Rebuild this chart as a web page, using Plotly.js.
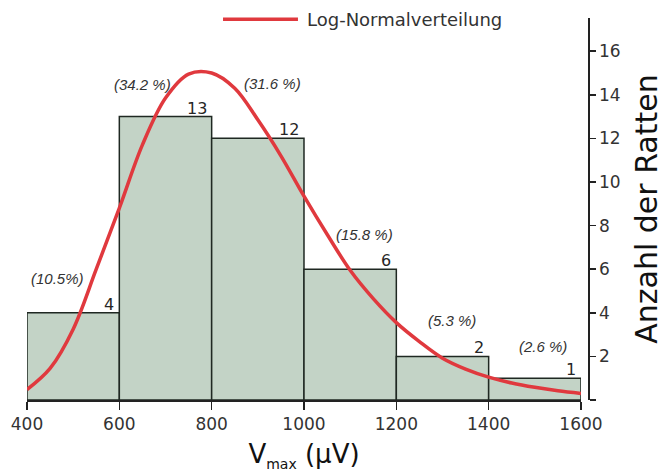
<!DOCTYPE html>
<html>
<head>
<meta charset="utf-8">
<script src="https://cdn.plot.ly/plotly-3.0.1.min.js"></script>
<style>
  html, body { margin: 0; padding: 0; background: #ffffff; }
  #chart { width: 664px; height: 475px; }
</style>
</head>
<body>
<div id="chart"></div>
<script>
// Histogram of V_max per rat (bins of 200 µV)
const binCenters = [500, 700, 900, 1100, 1300, 1500];
const binWidth = 200;
const counts = [4, 13, 12, 6, 2, 1];
const percentLabels = ['(10.5%)', '(34.2 %)', '(31.6 %)', '(15.8 %)', '(5.3 %)', '(2.6 %)'];

// Fitted log-normal curve, sampled every 50 µV
const curveX = [400, 450, 500, 550, 600, 650, 700, 750, 800, 850, 900, 950, 1000, 1050, 1100, 1150, 1200, 1250, 1300, 1350, 1400, 1450, 1500, 1550, 1600];
const curveY = [0.48, 1.45, 3.25, 6.0, 8.8, 11.7, 13.85, 14.95, 15.0, 14.3, 12.85, 11.2, 9.35, 7.6, 5.95, 4.65, 3.55, 2.68, 1.92, 1.42, 1.05, 0.78, 0.58, 0.42, 0.3];

// Axis ticks
const xTicks = [400, 600, 800, 1000, 1200, 1400, 1600];
const yTicks = [2, 4, 6, 8, 10, 12, 14, 16];

// Where the percentage notes sit (data coordinates)
const pctPos = [[467, 5.56], [650, 14.47], [931, 14.52], [1132, 7.59], [1320, 3.65], [1518, 2.44]];

const ink = '#333333';
const axisColor = '#222222';
const red = '#e0393e';

const bars = {
  type: 'bar',
  x: binCenters,
  y: counts,
  width: binCenters.map(() => binWidth),
  marker: { color: '#c3d3c6', line: { color: '#1f2822', width: 1.5 } },
  hoverinfo: 'x+y',
  showlegend: false
};

const curve = {
  type: 'scatter',
  mode: 'lines',
  name: 'Log-Normalverteilung',
  x: curveX,
  y: curveY,
  line: { color: red, width: 3.5, shape: 'spline', smoothing: 1 },
  showlegend: false
};

const annotations = [];
counts.forEach((c, i) => {
  annotations.push({
    x: binCenters[i] + binWidth / 2, y: c, xref: 'x', yref: 'y',
    text: String(c), showarrow: false,
    xanchor: 'right', yanchor: 'bottom', xshift: -3, yshift: -3,
    font: { family: 'DejaVu Sans', size: 16, color: '#262626' }
  });
  annotations.push({
    x: pctPos[i][0], y: pctPos[i][1], xref: 'x', yref: 'y',
    text: '<i>' + percentLabels[i] + '</i>', showarrow: false,
    xanchor: 'center', yanchor: 'middle',
    font: { family: 'Liberation Sans', size: 15, color: '#333333' }
  });
});

// Legend entry for the fitted curve
annotations.push({
  x: 0.495, y: 0.997, xref: 'paper', yref: 'paper',
  text: 'Log-Normalverteilung', showarrow: false,
  xanchor: 'left', yanchor: 'middle',
  font: { family: 'DejaVu Sans', size: 18, color: ink }
});

const layout = {
  width: 664,
  height: 475,
  margin: { l: 27, r: 76, t: 18, b: 75 },
  paper_bgcolor: '#ffffff',
  plot_bgcolor: '#ffffff',
  bargap: 0,
  showlegend: false,
  xaxis: {
    domain: [0, 0.9875],
    range: [400, 1600],
    tickvals: xTicks,
    ticks: 'outside', ticklen: 8, tickwidth: 1.5, tickcolor: axisColor,
    showline: true, linecolor: axisColor, linewidth: 1.5,
    showgrid: false, zeroline: false,
    tickfont: { family: 'DejaVu Sans', size: 17, color: ink },
    title: {
      text: 'V<sub><span style="font-size:14px">max</span></sub> (µV)',
      font: { family: 'DejaVu Sans', size: 26, color: '#111111' },
      standoff: 12
    }
  },
  yaxis: {
    side: 'right', anchor: 'free', position: 1,
    range: [0, 17.52],
    tickvals: yTicks,
    ticks: 'outside', ticklen: 6, tickwidth: 1.5, tickcolor: axisColor,
    minor: { tick0: 0, dtick: 2, ticks: 'outside', ticklen: 6, tickwidth: 1.5, tickcolor: axisColor },
    showline: true, linecolor: axisColor, linewidth: 1.5,
    showgrid: false, zeroline: false,
    tickfont: { family: 'DejaVu Sans', size: 17, color: ink },
    title: {
      text: 'Anzahl der Ratten',
      font: { family: 'DejaVu Sans', size: 30, color: '#111111' },
      standoff: 16
    }
  },
  shapes: [{
    type: 'line', xref: 'paper', yref: 'paper',
    x0: 0.3494, x1: 0.483, y0: 0.997, y1: 0.997,
    line: { color: red, width: 3.5 }
  }],
  annotations: annotations
};

Plotly.newPlot('chart', [bars, curve], layout, { displayModeBar: false, staticPlot: true });
</script>
</body>
</html>
